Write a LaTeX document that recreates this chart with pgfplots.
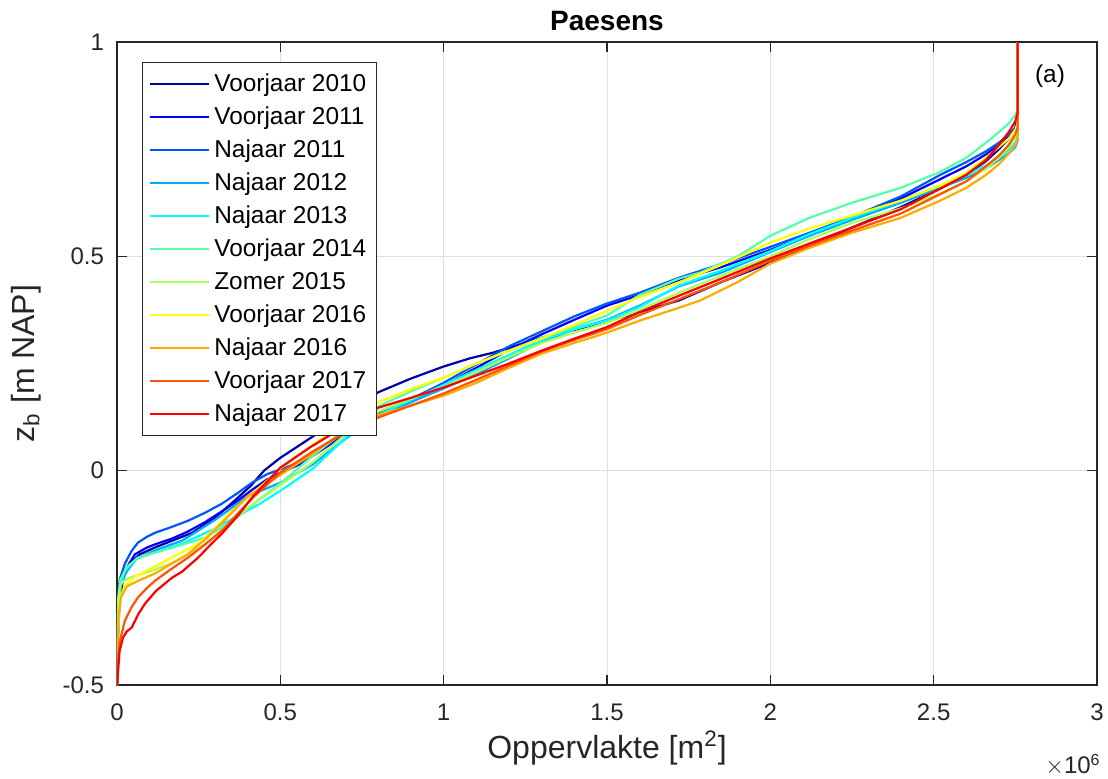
\documentclass[border=0pt]{standalone}
\usepackage{pgfplots}
\pgfplotsset{compat=1.18}
\usepackage{fontspec}
\setmainfont{Liberation Sans}

% jet colour map, 11 surveys
\definecolor{s01}{rgb}{0,0,0.6667}
\definecolor{s02}{rgb}{0,0,1}
\definecolor{s03}{rgb}{0,0.3333,1}
\definecolor{s04}{rgb}{0,0.6667,1}
\definecolor{s05}{rgb}{0,1,1}
\definecolor{s06}{rgb}{0.3333,1,0.6667}
\definecolor{s07}{rgb}{0.6667,1,0.3333}
\definecolor{s08}{rgb}{1,1,0}
\definecolor{s09}{rgb}{1,0.6667,0}
\definecolor{s10}{rgb}{1,0.3333,0}
\definecolor{s11}{rgb}{1,0,0}
\definecolor{axgray}{rgb}{0.15,0.15,0.15}

\begin{document}
\begin{tikzpicture}
\begin{axis}[
  name=ax,
  scale only axis,
  width=490pt, height=321.5pt,
  xmin=0, xmax=3, ymin=-0.5, ymax=1,
  xtick={0,0.5,1,1.5,2,2.5,3},
  xticklabels={0,0.5,1,1.5,2,2.5,3},
  ytick={-0.5,0,0.5,1},
  yticklabels={-0.5,0,0.5,1},
  tick align=inside,
  xtick pos=both, ytick pos=both,
  major tick length=5pt,
  grid=major,
  grid style={line width=0.5pt, black!13},
  axis line style={axgray, line width=0.6pt},
  tick style={axgray, line width=0.6pt},
  ticklabel style={font=\fontsize{12}{14}\selectfont, text=axgray},
  xticklabel style={yshift=-6pt},
  yticklabel style={xshift=-3pt},
  label style={font=\fontsize{16}{18}\selectfont, text=axgray},
  xlabel={Oppervlakte [m\textsuperscript{2}]},
  ylabel={z\textsubscript{b} [m NAP]},
  xlabel style={yshift=2pt},
  ylabel style={yshift=4pt},
  title={\textbf{Paesens}},
  title style={font=\fontsize{14}{16}\selectfont, yshift=-4pt},
  legend cell align=left,
  legend style={at={(0.0255,0.969)}, anchor=north west,
    draw=axgray, line width=0.6pt, fill=white,
    font=\fontsize{12.2}{14}\selectfont,
    inner xsep=3pt, inner ysep=3.5pt, row sep=2.2pt},
  legend image code/.code={\draw[#1, line width=1pt] (0cm,0cm) -- (1.05cm,0cm);},
  every axis plot/.append style={line width=1.1pt},
  clip=true,
]
\addplot[s01] coordinates {(0,-0.5) (0.002,-0.42) (0.005,-0.35) (0.01,-0.29) (0.02,-0.25) (0.04,-0.215) (0.07,-0.195) (0.12,-0.178) (0.17,-0.163) (0.23,-0.145) (0.3,-0.11) (0.36,-0.07) (0.41,-0.035) (0.45,0.0) (0.5,0.03) (0.56,0.06) (0.6,0.08) (0.7,0.135) (0.8,0.183) (0.9,0.215) (1.0,0.243) (1.08,0.262) (1.15,0.275) (1.3,0.31) (1.45,0.338) (1.6,0.37) (1.72,0.397) (1.85,0.44) (2.0,0.485) (2.12,0.525) (2.25,0.567) (2.4,0.615) (2.52,0.658) (2.6,0.69) (2.66,0.722) (2.7,0.75) (2.73,0.775) (2.75,0.8) (2.757,0.82) (2.757,1)};
\addlegendentry{Voorjaar 2010}
\addplot[s02] coordinates {(0,-0.5) (0.002,-0.4) (0.005,-0.31) (0.012,-0.26) (0.025,-0.232) (0.055,-0.195) (0.09,-0.18) (0.116,-0.172) (0.17,-0.158) (0.217,-0.142) (0.27,-0.12) (0.321,-0.095) (0.37,-0.07) (0.413,-0.045) (0.46,-0.02) (0.5,-0.005) (0.56,0.015) (0.6,0.035) (0.7,0.085) (0.8,0.13) (0.9,0.16) (1.0,0.198) (1.1,0.24) (1.2,0.282) (1.3,0.318) (1.4,0.352) (1.5,0.385) (1.6,0.41) (1.72,0.445) (1.85,0.475) (2.0,0.515) (2.12,0.55) (2.25,0.588) (2.4,0.635) (2.52,0.68) (2.6,0.71) (2.66,0.738) (2.7,0.76) (2.73,0.78) (2.75,0.8) (2.757,0.815) (2.757,1)};
\addlegendentry{Voorjaar 2011}
\addplot[s03] coordinates {(0,-0.5) (0.001,-0.4) (0.003,-0.3) (0.008,-0.255) (0.024,-0.217) (0.045,-0.187) (0.064,-0.168) (0.09,-0.155) (0.116,-0.145) (0.165,-0.132) (0.217,-0.117) (0.27,-0.098) (0.321,-0.077) (0.37,-0.052) (0.413,-0.028) (0.46,-0.008) (0.5,0.003) (0.56,0.02) (0.6,0.04) (0.7,0.09) (0.8,0.135) (0.9,0.167) (1.0,0.205) (1.1,0.248) (1.2,0.29) (1.3,0.325) (1.4,0.36) (1.5,0.39) (1.6,0.415) (1.72,0.45) (1.85,0.482) (2.0,0.522) (2.12,0.555) (2.25,0.592) (2.4,0.64) (2.52,0.69) (2.6,0.72) (2.66,0.745) (2.7,0.765) (2.73,0.785) (2.75,0.8) (2.757,0.81) (2.757,1)};
\addlegendentry{Najaar 2011}
\addplot[s04] coordinates {(0,-0.5) (0.002,-0.4) (0.005,-0.32) (0.012,-0.27) (0.025,-0.24) (0.06,-0.205) (0.12,-0.185) (0.2,-0.163) (0.3,-0.115) (0.4,-0.06) (0.5,-0.028) (0.6,0.015) (0.7,0.075) (0.8,0.127) (0.9,0.16) (1.0,0.192) (1.1,0.225) (1.2,0.262) (1.3,0.3) (1.4,0.33) (1.5,0.352) (1.6,0.385) (1.72,0.43) (1.85,0.462) (2.0,0.51) (2.12,0.548) (2.25,0.585) (2.4,0.625) (2.52,0.66) (2.6,0.683) (2.66,0.705) (2.7,0.725) (2.73,0.74) (2.75,0.755) (2.757,0.77) (2.757,1)};
\addlegendentry{Najaar 2012}
\addplot[s05] coordinates {(0,-0.5) (0.002,-0.4) (0.005,-0.31) (0.012,-0.26) (0.025,-0.232) (0.06,-0.205) (0.12,-0.19) (0.2,-0.17) (0.3,-0.135) (0.37,-0.105) (0.438,-0.077) (0.5,-0.047) (0.6,0.005) (0.722,0.093) (0.8,0.13) (0.9,0.165) (1.0,0.2) (1.1,0.235) (1.2,0.27) (1.3,0.305) (1.4,0.33) (1.5,0.35) (1.6,0.382) (1.72,0.432) (1.85,0.467) (2.0,0.512) (2.12,0.552) (2.25,0.59) (2.4,0.63) (2.52,0.665) (2.6,0.69) (2.66,0.712) (2.7,0.73) (2.73,0.748) (2.75,0.765) (2.757,0.78) (2.757,1)};
\addlegendentry{Najaar 2013}
\addplot[s06] coordinates {(0,-0.5) (0.002,-0.4) (0.004,-0.3) (0.01,-0.255) (0.03,-0.225) (0.064,-0.203) (0.12,-0.19) (0.168,-0.18) (0.22,-0.168) (0.27,-0.156) (0.35,-0.12) (0.43,-0.07) (0.5,-0.03) (0.6,0.035) (0.7,0.095) (0.8,0.15) (0.9,0.185) (1.0,0.217) (1.1,0.25) (1.2,0.28) (1.3,0.31) (1.4,0.335) (1.5,0.362) (1.6,0.41) (1.72,0.448) (1.785,0.462) (1.9,0.5) (2.0,0.548) (2.12,0.59) (2.25,0.625) (2.4,0.66) (2.52,0.697) (2.6,0.73) (2.66,0.765) (2.7,0.79) (2.73,0.81) (2.75,0.83) (2.757,0.84) (2.757,1)};
\addlegendentry{Voorjaar 2014}
\addplot[s07] coordinates {(0,-0.5) (0.002,-0.4) (0.004,-0.3) (0.01,-0.265) (0.025,-0.255) (0.045,-0.248) (0.1,-0.235) (0.17,-0.215) (0.254,-0.18) (0.32,-0.14) (0.376,-0.1) (0.45,-0.06) (0.52,-0.023) (0.6,0.02) (0.7,0.085) (0.8,0.138) (0.9,0.168) (1.0,0.195) (1.1,0.23) (1.2,0.265) (1.3,0.298) (1.4,0.322) (1.5,0.345) (1.6,0.375) (1.72,0.415) (1.85,0.455) (2.0,0.5) (2.12,0.54) (2.25,0.578) (2.4,0.612) (2.52,0.646) (2.6,0.675) (2.66,0.705) (2.7,0.73) (2.73,0.755) (2.75,0.78) (2.757,0.8) (2.757,1)};
\addlegendentry{Zomer 2015}
\addplot[s08] coordinates {(0,-0.5) (0.002,-0.42) (0.005,-0.35) (0.01,-0.295) (0.025,-0.268) (0.06,-0.245) (0.1,-0.23) (0.15,-0.21) (0.25,-0.17) (0.3,-0.135) (0.35,-0.095) (0.45,-0.03) (0.5,0.005) (0.6,0.06) (0.7,0.115) (0.8,0.16) (0.9,0.19) (1.0,0.217) (1.1,0.25) (1.2,0.28) (1.3,0.308) (1.4,0.34) (1.5,0.373) (1.6,0.405) (1.72,0.439) (1.85,0.48) (2.0,0.532) (2.12,0.565) (2.25,0.595) (2.4,0.63) (2.52,0.665) (2.6,0.695) (2.66,0.73) (2.7,0.755) (2.73,0.775) (2.75,0.795) (2.757,0.81) (2.757,1)};
\addlegendentry{Voorjaar 2016}
\addplot[s09] coordinates {(0,-0.5) (0.002,-0.42) (0.005,-0.34) (0.012,-0.295) (0.03,-0.27) (0.07,-0.255) (0.116,-0.24) (0.16,-0.22) (0.217,-0.195) (0.27,-0.16) (0.33,-0.115) (0.4,-0.06) (0.5,-0.01) (0.6,0.04) (0.7,0.095) (0.8,0.13) (0.9,0.152) (1.0,0.175) (1.1,0.205) (1.2,0.24) (1.3,0.273) (1.4,0.298) (1.5,0.322) (1.6,0.35) (1.72,0.38) (1.785,0.397) (1.9,0.44) (2.0,0.483) (2.12,0.52) (2.25,0.555) (2.4,0.59) (2.52,0.63) (2.6,0.66) (2.66,0.69) (2.7,0.715) (2.73,0.74) (2.75,0.76) (2.757,0.775) (2.757,1)};
\addlegendentry{Najaar 2016}
\addplot[s10] coordinates {(0,-0.5) (0.003,-0.45) (0.008,-0.4) (0.024,-0.35) (0.045,-0.318) (0.064,-0.296) (0.09,-0.275) (0.116,-0.257) (0.165,-0.23) (0.217,-0.203) (0.27,-0.172) (0.321,-0.14) (0.37,-0.1) (0.42,-0.06) (0.5,-0.005) (0.6,0.045) (0.7,0.09) (0.8,0.124) (0.9,0.152) (1.0,0.18) (1.1,0.212) (1.2,0.245) (1.3,0.278) (1.4,0.305) (1.5,0.33) (1.6,0.363) (1.72,0.4) (1.85,0.44) (2.0,0.49) (2.12,0.525) (2.25,0.56) (2.4,0.6) (2.52,0.645) (2.6,0.675) (2.66,0.71) (2.7,0.735) (2.73,0.76) (2.75,0.785) (2.757,0.8) (2.757,1)};
\addlegendentry{Voorjaar 2017}
\addplot[s11] coordinates {(0.001,-0.5) (0.004,-0.46) (0.008,-0.42) (0.018,-0.39) (0.03,-0.375) (0.045,-0.366) (0.065,-0.335) (0.086,-0.31) (0.12,-0.28) (0.168,-0.25) (0.2,-0.235) (0.248,-0.203) (0.29,-0.17) (0.321,-0.147) (0.37,-0.105) (0.413,-0.063) (0.5,0.007) (0.59,0.054) (0.7,0.105) (0.8,0.147) (0.9,0.17) (1.0,0.194) (1.1,0.222) (1.2,0.25) (1.3,0.28) (1.4,0.308) (1.5,0.335) (1.6,0.37) (1.72,0.408) (1.85,0.448) (2.0,0.495) (2.12,0.53) (2.25,0.567) (2.4,0.61) (2.52,0.658) (2.6,0.69) (2.66,0.725) (2.7,0.76) (2.73,0.79) (2.75,0.815) (2.757,0.835) (2.757,1)};
\addlegendentry{Najaar 2017}

\node[font=\fontsize{12.2}{14}\selectfont, text=black] at (axis cs:2.856,0.921) {(a)};
\end{axis}
% scale factor of the horizontal axis
\node[anchor=east, font=\fontsize{12}{14}\selectfont, text=axgray, inner sep=0pt]
  at ([xshift=2pt, yshift=-40pt]ax.south east) {$\times$10\textsuperscript{6}};
\pgfresetboundingbox
\path[use as bounding box] ([shift={(-58.5pt,-46.5pt)}]ax.south west) rectangle ([shift={(5.5pt,21pt)}]ax.north east);
\end{tikzpicture}
\end{document}
